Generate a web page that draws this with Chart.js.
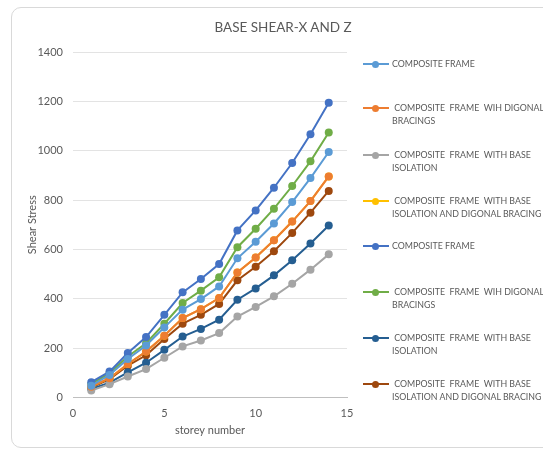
<!DOCTYPE html>
<html>
<head>
<meta charset="utf-8">
<script src="https://cdn.jsdelivr.net/npm/chart.js@4.4.0/dist/chart.umd.min.js"></script>
<style>
  html, body { margin: 0; padding: 0; background: #fff; }
  #wrap { position: relative; width: 543px; height: 449px; overflow: hidden; font-family: Lato, "Liberation Sans", sans-serif; }
  #frame { position: absolute; left: 11px; top: 7px; width: 600px; height: 439px; border: 1px solid #d9d9d9; border-radius: 10px; }
  #myChart { position: absolute; left: 0; top: 0; }
  #title { position: absolute; left: 183px; width: 200px; top: 19px; text-align: center; font-size: 13.5px; color: #595959; }
  #legend { position: absolute; left: 0; top: 0; }
  .item { position: absolute; left: 363px; width: 180px; }
  .swatch { position: absolute; left: 0; top: 0; width: 26px; height: 13px; }
  .swatch i { position: absolute; left: 0; top: 6px; width: 26px; height: 2px; }
  .swatch b { position: absolute; left: 9px; top: 3.5px; width: 7px; height: 7px; border-radius: 50%; }
  .txt { position: absolute; left: 29px; top: 0; width: 152px; font-size: 8.8px; line-height: 13px; color: #595959; white-space: pre-wrap; }
</style>
</head>
<body>
<div id="wrap">
  <div id="frame"></div>
  <canvas id="myChart" width="543" height="449"></canvas>
  <div id="title"></div>
  <div id="legend"></div>
</div>
<script>
// storey numbers on the x axis
const storeys = [1, 2, 3, 4, 5, 6, 7, 8, 9, 10, 11, 12, 13, 14];

const chartTitle = 'BASE SHEAR-X AND Z';

// series names (two groups of four)
const seriesNames = [
    'COMPOSITE FRAME',
    ' COMPOSITE  FRAME  WIH DIGONAL BRACINGS',
    ' COMPOSITE  FRAME  WITH BASE ISOLATION',
    ' COMPOSITE  FRAME  WITH BASE ISOLATION AND DIGONAL BRACING',
    'COMPOSITE FRAME',
    ' COMPOSITE  FRAME  WIH DIGONAL BRACINGS',
    ' COMPOSITE  FRAME  WITH BASE ISOLATION',
    ' COMPOSITE  FRAME  WITH BASE ISOLATION AND DIGONAL BRACING'
];

const seriesColors = ['#5B9BD5', '#ED7D31', '#A5A5A5', '#FFC000', '#4472C4', '#70AD47', '#255E91', '#9E480E'];

// shear values
const frameX = [48, 91, 156, 211, 284, 356, 399, 450, 564, 631, 705, 792, 889, 995];
const bracedX = [44, 78, 136, 186, 250, 322, 358, 403, 507, 567, 637, 713, 796, 896];
const isolatedX = [28, 54, 85, 115, 161, 207, 231, 261, 328, 367, 410, 461, 518, 580];
const isoBracedX = [44, 78, 136, 186, 250, 322, 358, 403, 507, 567, 637, 713, 796, 896];
const frameZ = [62, 105, 180, 245, 335, 426, 480, 541, 677, 758, 850, 950, 1067, 1194];
const bracedZ = [55, 98, 166, 220, 299, 383, 433, 487, 609, 684, 765, 857, 957, 1074];
const isolatedZ = [35, 60, 102, 141, 193, 247, 278, 315, 396, 442, 495, 556, 624, 697];
const isoBracedZ = [40, 74, 129, 171, 237, 299, 335, 379, 475, 530, 593, 667, 749, 837];

const yTicks = [0, 200, 400, 600, 800, 1000, 1200, 1400];
const xTicks = [0, 5, 10, 15];

const allSeries = [frameX, bracedX, isolatedX, isoBracedX, frameZ, bracedZ, isolatedZ, isoBracedZ];

const textColor = '#595959';

const datasets = allSeries.map((values, i) => ({
    label: seriesNames[i].trim(),
    data: values.map((v, j) => ({ x: storeys[j], y: v })),
    borderColor: seriesColors[i],
    backgroundColor: seriesColors[i],
    borderWidth: 2,
    pointRadius: 4,
    pointHoverRadius: 4,
    pointBorderWidth: 0,
    tension: 0
}));

const chart = new Chart(document.getElementById('myChart').getContext('2d'), {
    type: 'line',
    data: { datasets },
    options: {
        responsive: false,
        animation: false,
        layout: { padding: { left: 12, right: 196, top: 52, bottom: 0 } },
        plugins: {
            legend: { display: false },
            tooltip: { enabled: false }
        },
        scales: {
            x: {
                type: 'linear',
                min: xTicks[0],
                max: xTicks[xTicks.length - 1],
                afterBuildTicks: s => { s.ticks = xTicks.map(v => ({ value: v })); },
                afterFit: s => { s.height = 51.5; },
                grid: { display: false },
                border: { color: '#bfbfbf', width: 1 },
                ticks: { color: textColor, font: { family: 'Lato', size: 11 }, padding: 1, callback: v => String(v) },
                title: {
                    display: true,
                    text: 'storey number',
                    color: textColor,
                    font: { family: 'Lato', size: 11 },
                    padding: { top: 0, bottom: 12 }
                }
            },
            y: {
                min: yTicks[0],
                max: yTicks[yTicks.length - 1],
                afterBuildTicks: s => { s.ticks = yTicks.map(v => ({ value: v })); },
                afterFit: s => { s.width = 61; },
                grid: { color: '#e3e3e3', drawTicks: false },
                border: { display: false },
                ticks: { color: textColor, font: { family: 'Lato', size: 11 }, padding: 10, callback: v => String(v) },
                title: {
                    display: true,
                    text: 'Shear Stress',
                    color: textColor,
                    font: { family: 'Lato', size: 11 },
                    padding: { top: 14, bottom: 0 }
                }
            }
        }
    }
});

document.getElementById('title').textContent = chartTitle;

// legend built from the series names and colours
const legendTops = [57, 101, 148, 194, 239, 285, 331, 377];
const legendEl = document.getElementById('legend');
seriesNames.forEach((name, i) => {
    const item = document.createElement('div');
    item.className = 'item';
    item.style.top = legendTops[i] + 'px';
    item.innerHTML = '<div class="swatch"><i></i><b></b></div><div class="txt"></div>';
    item.querySelector('i').style.background = seriesColors[i];
    item.querySelector('b').style.background = seriesColors[i];
    item.querySelector('.txt').textContent = name;
    legendEl.appendChild(item);
});
</script>
</body>
</html>
